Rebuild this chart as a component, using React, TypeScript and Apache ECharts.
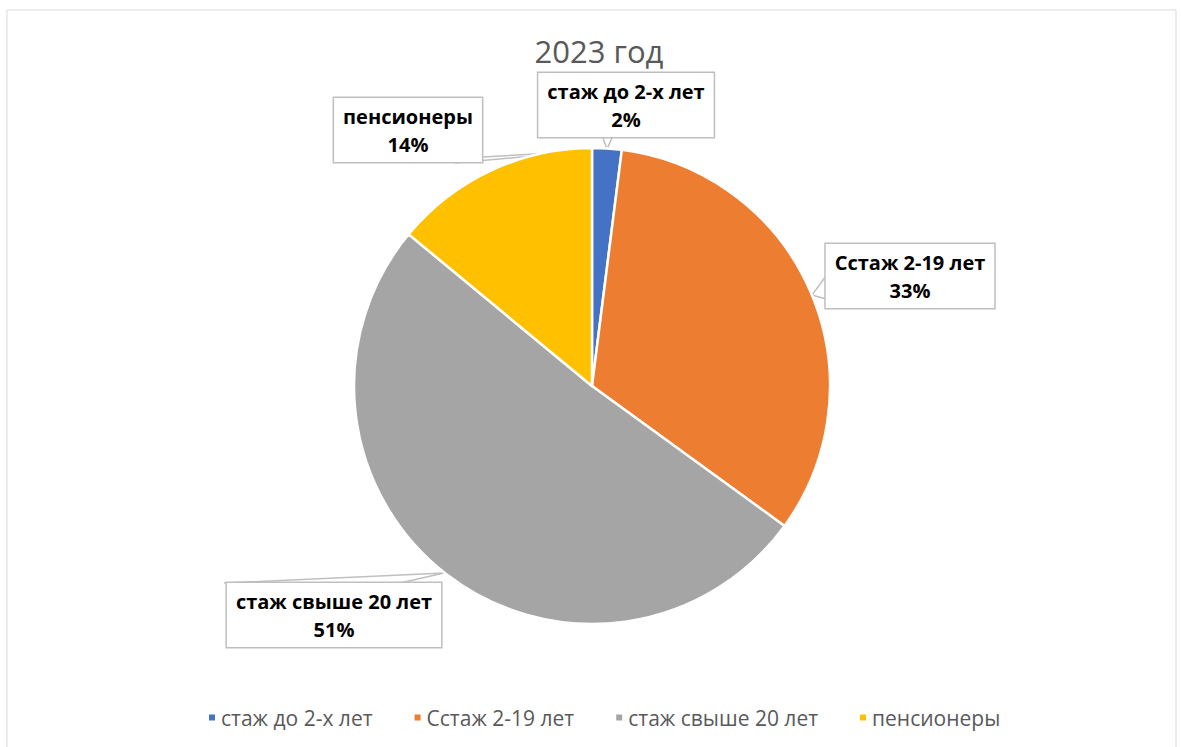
import React, { useEffect, useRef } from "react";
import * as echarts from "echarts";

const title = "2023 год";
const categories = ["стаж до 2-х лет", "Cстаж 2-19 лет", "стаж свыше 20 лет", "пенсионеры"];
const values = [2, 33, 51, 14];
const colors = ["#4472C4", "#ED7D31", "#A5A5A5", "#FFC000"];

// label box centres (layout only)
const labelPos: number[][] = [
  [626, 105],
  [910, 276],
  [334, 615],
  [408, 130],
];
// callout wedge outlines (layout only)
const pointerLines: number[][][] = [
  [[603, 138], [607, 149], [612, 138]],
  [[826, 276], [812, 295], [826, 299]],
  [[224, 583], [444, 573], [400, 583]],
  [[455, 163], [590, 151], [482, 157]],
];

const FONT = "'Open Sans', 'Noto Sans', sans-serif";

export default function App() {
  const ref = useRef<HTMLDivElement>(null);
  useEffect(() => {
    if (!ref.current) return;
    const chart = echarts.init(ref.current, undefined, { renderer: "svg" });
    chart.setOption({
      animation: false,
      backgroundColor: "#ffffff",
      title: {
        text: title,
        left: 594,
        top: 30,
        textAlign: "center",
        textStyle: { fontFamily: FONT, fontSize: 31, fontWeight: "normal", color: "#595959" },
      },
      legend: {
        top: 702,
        left: 202,
        icon: "rect",
        itemWidth: 8,
        itemHeight: 8,
        itemGap: 40,
        data: categories,
        textStyle: { fontFamily: FONT, fontSize: 21, color: "#595959" },
      },
      graphic: [
        {
          type: "rect",
          shape: { x: 7, y: 10, width: 1169, height: 760 },
          style: { fill: "none", stroke: "#D9D9D9", lineWidth: 1 },
          silent: true,
        },
      ],
      series: [
        {
          type: "pie",
          center: [592, 386],
          radius: 238,
          startAngle: 90,
          clockwise: true,
          itemStyle: { borderColor: "#ffffff", borderWidth: 2.5 },
          data: categories.map((c, i) => ({ name: c, value: values[i], itemStyle: { color: colors[i] } })),
          label: {
            show: true,
            formatter: "{b}\n{d}%",
            fontFamily: FONT,
            fontWeight: "bold",
            fontSize: 20,
            lineHeight: 28,
            color: "#000000",
            align: "center",
            verticalAlign: "middle",
            backgroundColor: "#ffffff",
            borderColor: "#BFBFBF",
            borderWidth: 1.5,
            padding: [4, 9],
          },
          labelLine: {
            show: true,
            lineStyle: { color: "#BFBFBF", width: 1.5 },
          },
          labelLayout: (params: any) => {
            const i = params.dataIndex;
            return {
              x: labelPos[i][0],
              y: labelPos[i][1],
              align: "center",
              verticalAlign: "middle",
              labelLinePoints: pointerLines[i],
            };
          },
          emphasis: { disabled: true },
        },
      ],
    });
    return () => chart.dispose();
  }, []);
  return (
    <div
      ref={ref}
      style={{ position: "fixed", left: 0, top: 0, width: 1181, height: 747 }}
    />
  );
}
